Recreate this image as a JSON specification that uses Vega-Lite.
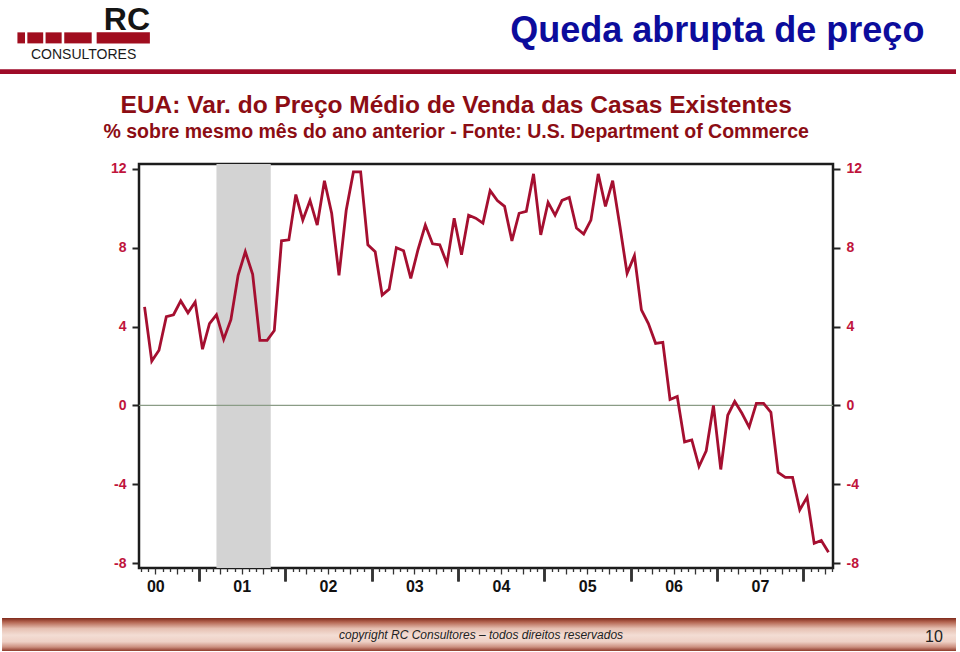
{
  "$schema": "https://vega.github.io/schema/vega-lite/v6.json",
  "width": 694,
  "height": 404,
  "autosize": "none",
  "padding": {"left": 139, "top": 164, "right": 127, "bottom": 84},
  "background": "white",
  "config": {"view": {"stroke": "#1c1c1c", "strokeWidth": 2.5}, "font": "Liberation Sans"},
  "datasets": {
    "prices": [
      {"month": "2000-05", "value": 5.0}, {"month": "2000-06", "value": 2.25}, {"month": "2000-07", "value": 2.8}, {"month": "2000-08", "value": 4.5},
      {"month": "2000-09", "value": 4.6}, {"month": "2000-10", "value": 5.3}, {"month": "2000-11", "value": 4.7}, {"month": "2000-12", "value": 5.25},
      {"month": "2001-01", "value": 2.85}, {"month": "2001-02", "value": 4.15}, {"month": "2001-03", "value": 4.6}, {"month": "2001-04", "value": 3.35},
      {"month": "2001-05", "value": 4.35}, {"month": "2001-06", "value": 6.6}, {"month": "2001-07", "value": 7.8}, {"month": "2001-08", "value": 6.65},
      {"month": "2001-09", "value": 3.3}, {"month": "2001-10", "value": 3.3}, {"month": "2001-11", "value": 3.8}, {"month": "2001-12", "value": 8.35},
      {"month": "2002-01", "value": 8.4}, {"month": "2002-02", "value": 10.7}, {"month": "2002-03", "value": 9.4}, {"month": "2002-04", "value": 10.4},
      {"month": "2002-05", "value": 9.15}, {"month": "2002-06", "value": 11.4}, {"month": "2002-07", "value": 9.75}, {"month": "2002-08", "value": 6.6},
      {"month": "2002-09", "value": 9.9}, {"month": "2002-10", "value": 11.85}, {"month": "2002-11", "value": 11.85}, {"month": "2002-12", "value": 8.15},
      {"month": "2003-01", "value": 7.8}, {"month": "2003-02", "value": 5.6}, {"month": "2003-03", "value": 5.9}, {"month": "2003-04", "value": 8.0},
      {"month": "2003-05", "value": 7.85}, {"month": "2003-06", "value": 6.45}, {"month": "2003-07", "value": 7.9}, {"month": "2003-08", "value": 9.15},
      {"month": "2003-09", "value": 8.2}, {"month": "2003-10", "value": 8.15}, {"month": "2003-11", "value": 7.2}, {"month": "2003-12", "value": 9.5},
      {"month": "2004-01", "value": 7.65}, {"month": "2004-02", "value": 9.65}, {"month": "2004-03", "value": 9.5}, {"month": "2004-04", "value": 9.25},
      {"month": "2004-05", "value": 10.9}, {"month": "2004-06", "value": 10.4}, {"month": "2004-07", "value": 10.1}, {"month": "2004-08", "value": 8.35},
      {"month": "2004-09", "value": 9.75}, {"month": "2004-10", "value": 9.85}, {"month": "2004-11", "value": 11.75}, {"month": "2004-12", "value": 8.65},
      {"month": "2005-01", "value": 10.3}, {"month": "2005-02", "value": 9.65}, {"month": "2005-03", "value": 10.4}, {"month": "2005-04", "value": 10.55},
      {"month": "2005-05", "value": 9.0}, {"month": "2005-06", "value": 8.7}, {"month": "2005-07", "value": 9.4}, {"month": "2005-08", "value": 11.75},
      {"month": "2005-09", "value": 10.1}, {"month": "2005-10", "value": 11.4}, {"month": "2005-11", "value": 9.1}, {"month": "2005-12", "value": 6.7},
      {"month": "2006-01", "value": 7.6}, {"month": "2006-02", "value": 4.85}, {"month": "2006-03", "value": 4.15}, {"month": "2006-04", "value": 3.15},
      {"month": "2006-05", "value": 3.2}, {"month": "2006-06", "value": 0.3}, {"month": "2006-07", "value": 0.45}, {"month": "2006-08", "value": -1.85},
      {"month": "2006-09", "value": -1.75}, {"month": "2006-10", "value": -3.1}, {"month": "2006-11", "value": -2.3}, {"month": "2006-12", "value": 0.0},
      {"month": "2007-01", "value": -3.25}, {"month": "2007-02", "value": -0.5}, {"month": "2007-03", "value": 0.2}, {"month": "2007-04", "value": -0.4},
      {"month": "2007-05", "value": -1.1}, {"month": "2007-06", "value": 0.1}, {"month": "2007-07", "value": 0.1}, {"month": "2007-08", "value": -0.35},
      {"month": "2007-09", "value": -3.4}, {"month": "2007-10", "value": -3.65}, {"month": "2007-11", "value": -3.65}, {"month": "2007-12", "value": -5.3},
      {"month": "2008-01", "value": -4.65}, {"month": "2008-02", "value": -7.0}, {"month": "2008-03", "value": -6.85}, {"month": "2008-04", "value": -7.45}
    ],
    "recession": [{"start": "2001-03", "end": "2001-11"}]
  },
  "layer": [
    {
      "data": {"name": "recession"},
      "mark": {"type": "rect", "color": "#d3d3d3"},
      "encoding": {
        "x": {"field": "start", "type": "temporal", "timeUnit": "utcyearmonth", "bandPosition": 0.5, "scale": {"type": "utc"},
          "axis": {
            "orient": "bottom", "title": null, "grid": false, "domain": false, "bandPosition": 0,
            "tickCount": {"interval": "month", "step": 1},
            "tickSize": {"condition": [{"test": "utcmonth(datum.value) == 0", "value": 13}, {"test": "utcmonth(datum.value) % 3 == 0", "value": 6}], "value": 3.5},
            "tickWidth": {"condition": {"test": "utcmonth(datum.value) == 0", "value": 2.5}, "value": 1.3},
            "tickColor": "#333",
            "labelExpr": "utcmonth(datum.value) == 6 ? utcFormat(datum.value, '%y') : ''",
            "labelFontSize": 16, "labelFontWeight": "bold", "labelColor": "#111",
            "labelPadding": 4, "labelOverlap": false, "labelFlush": false
          }},
        "x2": {"field": "end", "timeUnit": "utcyearmonth"}
      }
    },
    {
      "data": {"name": "recession"},
      "mark": {"type": "rule", "color": "#8a9c86", "strokeWidth": 1.2},
      "encoding": {
        "y": {
          "datum": 0, "type": "quantitative",
          "scale": {"domain": [-8.25, 12.25], "nice": false, "zero": false},
          "axis": {"orient": "right", "values": [-8, -4, 0, 4, 8, 12], "title": null, "grid": false, "domain": false,
                   "labelExpr": "datum.value < 0 ? '-' + abs(datum.value) : '' + datum.value",
                   "tickSize": 7, "tickWidth": 2, "tickColor": "#222", "labelColor": "#c0143c", "labelFontSize": 14,
                   "labelFontWeight": "bold", "labelPadding": 6}
        }
      }
    },
    {
      "data": {"name": "prices"},
      "mark": {"type": "line", "color": "#a50f30", "strokeWidth": 2.8},
      "encoding": {
        "x": {
          "field": "month", "type": "temporal", "timeUnit": "utcyearmonth", "bandPosition": 0.5,
          "scale": {"type": "utc", "nice": false,
                    "domain": [{"year": 2000, "month": 4, "date": 23, "utc": true}, {"year": 2008, "month": 5, "date": 5, "utc": true}]},
          "axis": {
            "orient": "bottom", "title": null, "grid": false, "domain": false, "labels": false, "bandPosition": 0,
            "values": [{"year": 2001, "month": 1, "date": 1, "utc": true}, {"year": 2002, "month": 1, "date": 1, "utc": true},
                       {"year": 2003, "month": 1, "date": 1, "utc": true}, {"year": 2004, "month": 1, "date": 1, "utc": true},
                       {"year": 2005, "month": 1, "date": 1, "utc": true}, {"year": 2006, "month": 1, "date": 1, "utc": true},
                       {"year": 2007, "month": 1, "date": 1, "utc": true}, {"year": 2008, "month": 1, "date": 1, "utc": true}],
            "tickSize": 13, "tickWidth": 2.5, "tickColor": "#333"
          }
        },
        "y": {
          "field": "value", "type": "quantitative",
          "scale": {"domain": [-8.25, 12.25], "nice": false, "zero": false},
          "axis": {"orient": "left", "values": [-8, -4, 0, 4, 8, 12], "title": null, "grid": false, "domain": false,
                   "labelExpr": "datum.value < 0 ? '-' + abs(datum.value) : '' + datum.value",
                   "tickSize": 7, "tickWidth": 2, "tickColor": "#222", "labelColor": "#c0143c", "labelFontSize": 14,
                   "labelFontWeight": "bold", "labelPadding": 6}
        }
      }
    },
    {
      "data": {"name": "recession"},
      "mark": {"type": "rect", "color": "#9e0b28"},
      "encoding": {
        "x": {"datum": {"year": 1998, "month": 6, "date": 1, "utc": true}, "type": "temporal", "axis": null},
        "x2": {"datum": {"year": 2009, "month": 10, "date": 7, "utc": true}},
        "y": {"datum": 17.06, "type": "quantitative", "axis": null},
        "y2": {"datum": 16.82}
      }
    },
    {
      "data": {"name": "recession"},
      "mark": {"type": "rect", "color": {"gradient": "linear", "x1": 0, "y1": 0, "x2": 0, "y2": 1,
        "stops": [{"offset": 0, "color": "#7f2a1c"}, {"offset": 0.12, "color": "#b46450"}, {"offset": 0.32, "color": "#e6c0b2"},
                  {"offset": 0.52, "color": "#f3ddd4"}, {"offset": 0.72, "color": "#eed0c5"}, {"offset": 0.88, "color": "#cc9080"}, {"offset": 1, "color": "#8e3a2a"}]}},
      "encoding": {
        "x": {"datum": {"year": 1998, "month": 9, "date": 22, "utc": true}, "type": "temporal", "axis": null},
        "x2": {"datum": {"year": 2009, "month": 10, "date": 7, "utc": true}},
        "y": {"datum": -10.79, "type": "quantitative", "axis": null},
        "y2": {"datum": -12.46}
      }
    },
    {
      "data": {"name": "recession"},
      "mark": {"type": "rect", "color": "#a00d1e"},
      "encoding": {
        "x": {"datum": {"year": 1998, "month": 11, "date": 26, "utc": true}, "type": "temporal", "axis": null},
        "x2": {"datum": {"year": 1998, "month": 12, "date": 28, "utc": true}},
        "y": {"datum": 18.93, "type": "quantitative", "axis": null},
        "y2": {"datum": 18.37}
      }
    },
    {
      "data": {"name": "recession"},
      "mark": {"type": "rect", "color": "#a00d1e"},
      "encoding": {
        "x": {"datum": {"year": 1999, "month": 1, "date": 7, "utc": true}, "type": "temporal", "axis": null},
        "x2": {"datum": {"year": 1999, "month": 3, "date": 15, "utc": true}},
        "y": {"datum": 18.93, "type": "quantitative", "axis": null},
        "y2": {"datum": 18.37}
      }
    },
    {
      "data": {"name": "recession"},
      "mark": {"type": "rect", "color": "#a00d1e"},
      "encoding": {
        "x": {"datum": {"year": 1999, "month": 3, "date": 25, "utc": true}, "type": "temporal", "axis": null},
        "x2": {"datum": {"year": 1999, "month": 6, "date": 1, "utc": true}},
        "y": {"datum": 18.93, "type": "quantitative", "axis": null},
        "y2": {"datum": 18.37}
      }
    },
    {
      "data": {"name": "recession"},
      "mark": {"type": "rect", "color": "#a00d1e"},
      "encoding": {
        "x": {"datum": {"year": 1999, "month": 6, "date": 12, "utc": true}, "type": "temporal", "axis": null},
        "x2": {"datum": {"year": 1999, "month": 10, "date": 6, "utc": true}},
        "y": {"datum": 18.93, "type": "quantitative", "axis": null},
        "y2": {"datum": 18.37}
      }
    },
    {
      "data": {"name": "recession"},
      "mark": {"type": "rect", "color": "#a00d1e"},
      "encoding": {
        "x": {"datum": {"year": 1999, "month": 10, "date": 27, "utc": true}, "type": "temporal", "axis": null},
        "x2": {"datum": {"year": 2000, "month": 6, "date": 8, "utc": true}},
        "y": {"datum": 18.93, "type": "quantitative", "axis": null},
        "y2": {"datum": 18.37}
      }
    },
    {
      "data": {"name": "recession"},
      "mark": {"type": "text", "text": "Queda abrupta de preço", "fontSize": 36, "fontWeight": "bold", "color": "#0c0c9c", "align": "center", "baseline": "alphabetic"},
      "encoding": {
        "x": {"datum": {"year": 2007, "month": 1, "date": 2, "utc": true}, "type": "temporal", "axis": null},
        "y": {"datum": 18.46, "type": "quantitative", "axis": null}
      }
    },
    {
      "data": {"name": "recession"},
      "mark": {"type": "text", "text": "EUA: Var. do Preço Médio de Venda das Casas Existentes", "fontSize": 24.5, "fontWeight": "bold", "color": "#8c0d14", "align": "center", "baseline": "alphabetic"},
      "encoding": {
        "x": {"datum": {"year": 2003, "month": 12, "date": 25, "utc": true}, "type": "temporal", "axis": null},
        "y": {"datum": 14.84, "type": "quantitative", "axis": null}
      }
    },
    {
      "data": {"name": "recession"},
      "mark": {"type": "text", "text": "% sobre mesmo mês do ano anterior - Fonte: U.S. Department of Commerce", "fontSize": 19.5, "fontWeight": "bold", "color": "#8c0d14", "align": "center", "baseline": "alphabetic"},
      "encoding": {
        "x": {"datum": {"year": 2003, "month": 12, "date": 25, "utc": true}, "type": "temporal", "axis": null},
        "y": {"datum": 13.55, "type": "quantitative", "axis": null}
      }
    },
    {
      "data": {"name": "recession"},
      "mark": {"type": "text", "text": "RC", "fontSize": 32, "fontWeight": "bold", "color": "#151515", "align": "right", "baseline": "alphabetic"},
      "encoding": {
        "x": {"datum": {"year": 2000, "month": 6, "date": 8, "hours": 12, "utc": true}, "type": "temporal", "axis": null},
        "y": {"datum": 19.05, "type": "quantitative", "axis": null}
      }
    },
    {
      "data": {"name": "recession"},
      "mark": {"type": "text", "text": "CONSULTORES", "fontSize": 14, "color": "#1a1a1a", "align": "center", "baseline": "alphabetic"},
      "encoding": {
        "x": {"datum": {"year": 1999, "month": 9, "date": 2, "utc": true}, "type": "temporal", "axis": null},
        "y": {"datum": 17.56, "type": "quantitative", "axis": null}
      }
    },
    {
      "data": {"name": "recession"},
      "mark": {"type": "text", "text": "copyright RC Consultores – todos direitos reservados", "fontSize": 12, "fontStyle": "italic", "color": "#222222", "align": "center", "baseline": "alphabetic"},
      "encoding": {
        "x": {"datum": {"year": 2004, "month": 4, "date": 8, "utc": true}, "type": "temporal", "axis": null},
        "y": {"datum": -11.85, "type": "quantitative", "axis": null}
      }
    },
    {
      "data": {"name": "recession"},
      "mark": {"type": "text", "text": "10", "fontSize": 16, "color": "#222222", "align": "center", "baseline": "alphabetic"},
      "encoding": {
        "x": {"datum": {"year": 2009, "month": 7, "date": 6, "utc": true}, "type": "temporal", "axis": null},
        "y": {"datum": -12.01, "type": "quantitative", "axis": null}
      }
    }
  ],
  "resolve": {"axis": {"x": "independent", "y": "independent"}}
}
